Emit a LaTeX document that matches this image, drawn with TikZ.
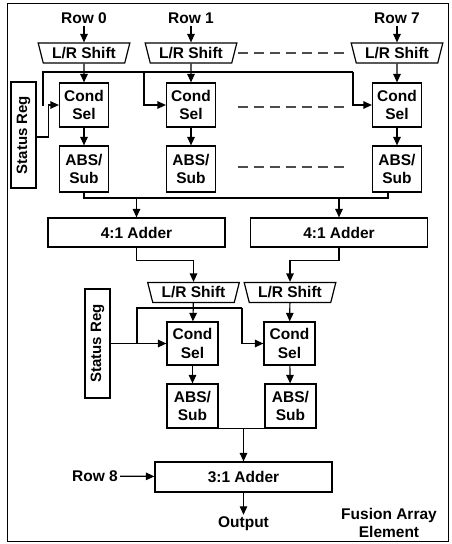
\documentclass[tikz,border=0pt]{standalone}
\usepackage{fontspec}
\setmainfont{Liberation Sans}
\usetikzlibrary{shapes.geometric,arrows.meta,calc}
\begin{document}
\begin{tikzpicture}[x=1pt,y=-1pt,
  font=\fontsize{15.5}{18.5}\selectfont\bfseries,
  box/.style={draw, line width=1.2pt, align=center, inner sep=0pt},
  condbox/.style={box, minimum width=49pt, minimum height=44pt},
  absbox/.style={box, minimum width=49pt, minimum height=46pt},
  addbox/.style={box, minimum width=177pt, minimum height=29pt},
  shiftbox/.style={draw, line width=1.2pt, trapezium, shape border rotate=180,
    trapezium angle=71, trapezium stretches=true,
    minimum width=92pt, minimum height=20pt, inner sep=0pt},
  lbl/.style={inner sep=2pt},
  wire/.style={line width=1.2pt},
  arr/.style={line width=1.2pt, -{Triangle[length=8.5pt,width=7.5pt]}},
  dashline/.style={line width=1.6pt, black!70, dash pattern=on 10pt off 6pt}]
\useasboundingbox (0,0) rectangle (451,544);
\draw[line width=1pt] (7,3) rectangle (448,541);

% top row inputs
\node[lbl] (r0) at (84,18) {Row 0};
\node[lbl] (r1) at (191,18) {Row 1};
\node[lbl] (r7) at (397,18) {Row 7};
\node[shiftbox] (s0) at (84,53) {L/R Shift};
\node[shiftbox] (s1) at (191,53) {L/R Shift};
\node[shiftbox] (s7) at (397,53) {L/R Shift};
\draw[arr] (r0) -- (s0);
\draw[arr] (r1) -- (s1);
\draw[arr] (r7) -- (s7);

\node[condbox] (c0) at (84,105) {Cond\\Sel};
\node[condbox] (c1) at (191,105) {Cond\\Sel};
\node[condbox] (c7) at (397,105) {Cond\\Sel};
\node[absbox] (a0) at (84,169) {ABS/\\Sub};
\node[absbox] (a1) at (191,169) {ABS/\\Sub};
\node[absbox] (a7) at (397,169) {ABS/\\Sub};
\draw[arr] (s0) -- (c0);
\draw[arr] (s1) -- (c1);
\draw[arr] (s7) -- (c7);
\draw[arr] (c0) -- (a0);
\draw[arr] (c1) -- (a1);
\draw[arr] (c7) -- (a7);

% shared bus
\coordinate (busL) at (43,72);
\coordinate (busR) at (353,72);
\coordinate (busM) at (144,72);
\draw[wire] (43,106) -- (busL) -- (busR);
\draw[arr] (busR) |- (c7.west);
\draw[arr] (busM) |- (c1.west);

% top status register
\node[box, minimum width=25pt, minimum height=106pt, font=\fontsize{15}{18}\selectfont\bfseries] (st0) at (23.5,135) {\rotatebox{90}{Status Reg}};
\draw[arr] ($(st0.east)+(0,2)$) -- ++(12,0) |- (c0.west);

% dashed continuation
\draw[dashline] (238,53) -- (344,53);
\draw[dashline] (238,107) -- (344,107);
\draw[dashline] (238,167) -- (344,167);

% 4:1 adders
\node[addbox] (ad0) at (136.5,232.5) {4:1 Adder};
\node[addbox] (ad1) at (339,232.5) {4:1 Adder};
\coordinate (b2R) at (388,198);
\draw[wire] (a0.south) |- (b2R) -- (a7.south -| b2R);
\draw[arr] (ad0.north |- b2R) -- (ad0.north);
\draw[arr] (ad1.north |- b2R) -- (ad1.north);

% second stage
\node[shiftbox] (s8) at (193.5,292.5) {L/R Shift};
\node[shiftbox] (s9) at (290,292.5) {L/R Shift};
\draw[arr] (ad0.south) -- ++(0,13) -| (s8.north);
\draw[arr] (ad1.south) -- ++(0,13) -| (s9.north);

\node[box, minimum width=51pt, minimum height=43pt] (c8) at (192.5,343.5) {Cond\\Sel};
\node[box, minimum width=51pt, minimum height=43pt] (c9) at (289.5,343.5) {Cond\\Sel};
\node[box, minimum width=51pt, minimum height=44pt] (a8) at (192.5,406) {ABS/\\Sub};
\node[box, minimum width=51pt, minimum height=44pt] (a9) at (290.5,406) {ABS/\\Sub};
\draw[arr] (s8) -- (c8);
\draw[arr] (s9) -- (c9);
\draw[arr] (c8) -- (a8);
\draw[arr] (c9) -- (a9);

\node[box, minimum width=25pt, minimum height=109pt, font=\fontsize{15}{18}\selectfont\bfseries] (st1) at (97.5,343.5) {\rotatebox{90}{Status Reg}};
\draw[arr] (st1.east) -- (c8.west);
\coordinate (b3L) at (137,308);
\coordinate (b3R) at (242,308);
\draw[wire] (st1.east -| b3L) -- (b3L) -- (b3R);
\draw[arr] (b3R) |- (c9.west);

% 3:1 adder and output
\node[box, minimum width=177pt, minimum height=30pt] (ad3) at (243.5,477) {3:1 Adder};
\draw[wire] (a8.south east) -- (a9.south west);
\coordinate (m) at (243.5,428);
\draw[arr] (m) -- (ad3);
\node[lbl] (r8) at (95,476) {Row 8};
\draw[arr] (r8) -- (ad3);
\node[lbl] (out) at (243.5,524) {Output};
\draw[arr] (ad3) -- (out);
\node[align=center] (fae) at (389,523) {Fusion Array\\Element};
\end{tikzpicture}
\end{document}
